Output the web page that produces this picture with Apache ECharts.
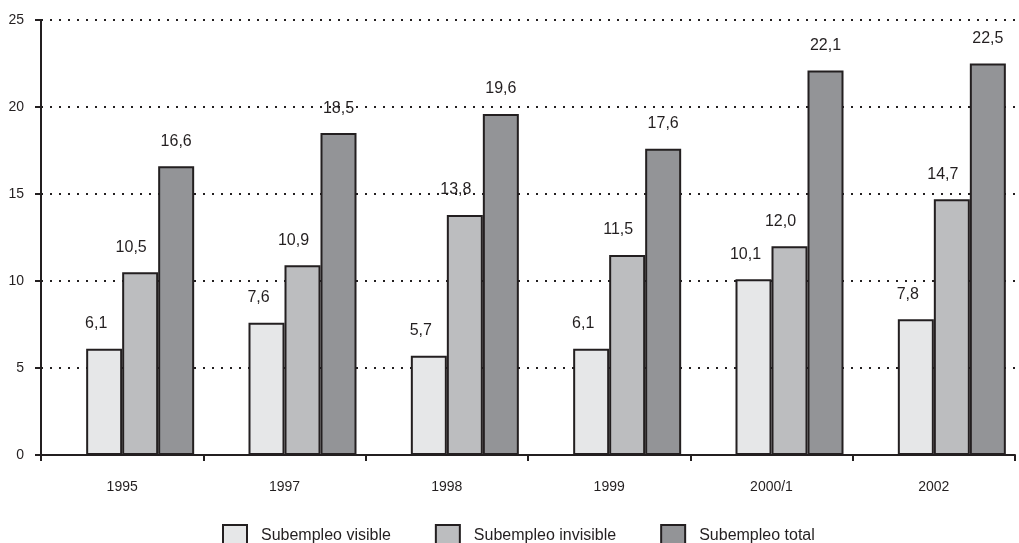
<!DOCTYPE html>
<html>
<head>
<meta charset="utf-8">
<script src="https://cdn.jsdelivr.net/npm/echarts@6/dist/echarts.min.js"></script>
<style>
  html, body { margin: 0; padding: 0; background: #fff; }
  #chart { width: 1019px; height: 543px; }
</style>
</head>
<body>
<div id="chart"></div>
<script>
const categories = ['1995', '1997', '1998', '1999', '2000/1', '2002'];
const visible = [6.1, 7.6, 5.7, 6.1, 10.1, 7.8];
const invisible = [10.5, 10.9, 13.8, 11.5, 12.0, 14.7];
const total = [16.6, 18.5, 19.6, 17.6, 22.1, 22.5];
const seriesNames = ['Subempleo visible', 'Subempleo invisible', 'Subempleo total'];
const yTicks = { min: 0, max: 25, interval: 5 };

const FONT = '"Liberation Sans Narrow", "Arial Narrow", "Liberation Sans", sans-serif';
const INK = '#231f20';

const fmt = v => v.toFixed(1).replace('.', ',');

function barSeries(name, data, color, dx) {
  return {
    name: name,
    type: 'bar',
    data: data,
    barWidth: 36,
    barGap: '0%',
    itemStyle: { color: color, borderColor: INK, borderWidth: 2 },
    label: {
      show: true,
      position: 'top',
      distance: 17,
      offset: [dx, 0],
      formatter: p => fmt(p.value),
      color: INK,
      fontFamily: FONT,
      fontSize: 16
    }
  };
}

const chart = echarts.init(document.getElementById('chart'), null, { renderer: 'canvas' });
chart.setOption({
  animation: false,
  backgroundColor: '#ffffff',
  grid: { left: 41, right: 4, top: 20, bottom: 88 },
  legend: {
    top: 519,
    left: 217,
    data: seriesNames,
    icon: 'rect',
    itemWidth: 24,
    itemHeight: 22,
    itemGap: 44,
    textStyle: { fontFamily: FONT, fontSize: 16, color: INK, padding: [0, 0, 0, 9] },
    itemStyle: { borderColor: INK, borderWidth: 2 }
  },
  xAxis: {
    type: 'category',
    data: categories,
    axisLine: { lineStyle: { color: INK, width: 2 } },
    axisTick: { show: true, length: 6, lineStyle: { color: INK, width: 2 } },
    axisLabel: { margin: 25, fontFamily: FONT, fontSize: 14, color: INK }
  },
  yAxis: {
    type: 'value',
    min: yTicks.min,
    max: yTicks.max,
    interval: yTicks.interval,
    axisLine: { show: true, lineStyle: { color: INK, width: 2 } },
    axisTick: { show: true, length: 6, lineStyle: { color: INK, width: 2 } },
    axisLabel: { margin: 17, fontFamily: FONT, fontSize: 14, color: INK },
    splitLine: { show: true, lineStyle: { color: INK, width: 2, type: [2, 7] } }
  },
  series: [
    // spacer that shifts each group to the right within its category
    { name: '_spacer', type: 'bar', data: categories.map(() => 0), barWidth: 36, barGap: '0%',
      itemStyle: { color: 'transparent' }, silent: true },
    barSeries(seriesNames[0], visible, '#e6e7e8', -8),
    barSeries(seriesNames[1], invisible, '#bcbdbf', -9),
    barSeries(seriesNames[2], total, '#939497', 0)
  ]
});
</script>
</body>
</html>
